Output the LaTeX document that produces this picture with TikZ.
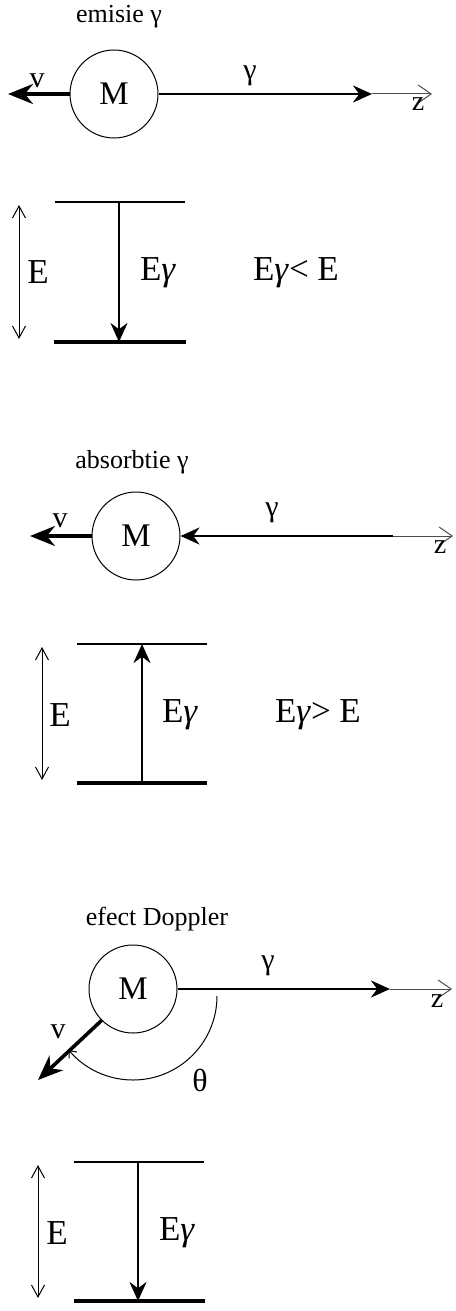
\documentclass[tikz,border=0pt]{standalone}
\usepackage{fontspec}
\setmainfont{Liberation Serif}
\usetikzlibrary{arrows.meta}

\begin{document}
\begin{tikzpicture}[
    x=0.5pt, y=-0.5pt,
    mass/.style={draw, circle, line width=0.5pt, minimum size=44pt, inner sep=0pt,
        font=\fontsize{16.5}{18}\selectfont},
    title/.style={font=\fontsize{13}{15}\selectfont},
    lab/.style={font=\fontsize{17.5}{20}\selectfont},
    sym/.style={font=\fontsize{15}{17}\selectfont},
    photon/.style={-{Stealth[length=9.5pt, width=8.5pt]}, line width=1.1pt},
    vel/.style={-{Stealth[length=12.5pt, width=10pt]}, line width=1.8pt},
    zaxis/.style={-{Straight Barb[length=6.5pt, width=9pt]}, line width=0.5pt, black!70},
    span/.style={{Straight Barb[length=6pt, width=6.5pt]}-{Straight Barb[length=6pt, width=6.5pt]},
        line width=0.5pt},
    upper/.style={line width=0.6pt},
    lower/.style={line width=1.6pt},
]
% picture size in px (y down)
\useasboundingbox (0,0) rectangle (455,1311);

% ---- emisie
\node[title] (t1) at (119,17) {emisie γ};
\node[mass] (M1) at (114,94) {M};
\coordinate (v1) at (8,94);
\coordinate (g1) at (372,94);
\coordinate (z1) at (432,94);
\draw[vel] (M1.west) -- (v1);
\draw[photon] (M1.east) -- (g1);
\draw[zaxis] (g1) -- (z1);
\node[sym] (vl1) at (37,81) {v};
\node[sym] (gl1) at (250,76) {γ};
\node[sym, font=\fontsize{14}{16}\selectfont] (zl1) at (418,104) {z};

% levels
\coordinate (u1a) at (55,202);  \coordinate (u1b) at (185,202);
\coordinate (d1a) at (54,342);  \coordinate (d1b) at (186,342);
\coordinate (e1t) at (19,205);  \coordinate (e1b) at (19,339);
\coordinate (k1t) at (119,202); \coordinate (k1b) at (119,342);
\draw[upper] (u1a) -- (u1b);
\draw[lower] (d1a) -- (d1b);
\draw[span] (e1t) -- (e1b);
\draw[photon] (k1t) -- (k1b);
\node[lab] (El1) at (38,272) {E};
\node[lab, anchor=west] (Eg1) at (133,273) {E\textit{γ}};
\node[lab, anchor=west] (Ec1) at (246,273) {E\textit{γ}< E};

% ---- absorbtie
\node[title] (t2) at (132,462) {absorbtie γ};
\node[mass] (M2) at (136,536) {M};
\coordinate (v2) at (30,536);
\coordinate (s2) at (393,536);
\coordinate (z2) at (453,536);
\draw[vel] (M2.west) -- (v2);
\draw[photon] (s2) -- (M2.east);
\draw[zaxis] (s2) -- (z2);
\node[sym] (vl2) at (60,521) {v};
\node[sym] (gl2) at (272,513) {γ};
\node[sym, font=\fontsize{14}{16}\selectfont] (zl2) at (440,547) {z};

% levels
\coordinate (u2a) at (77,644);  \coordinate (u2b) at (207,644);
\coordinate (d2a) at (77,783);  \coordinate (d2b) at (207,783);
\coordinate (e2t) at (42,647);  \coordinate (e2b) at (42,780);
\coordinate (k2t) at (142,644); \coordinate (k2b) at (142,783);
\draw[upper] (u2a) -- (u2b);
\draw[lower] (d2a) -- (d2b);
\draw[span] (e2t) -- (e2b);
\draw[photon] (k2b) -- (k2t);
\node[lab] (El2) at (60,715) {E};
\node[lab, anchor=west] (Eg2) at (155,715) {E\textit{γ}};
\node[lab, anchor=west] (Ec2) at (268,715) {E\textit{γ}> E};

% ---- efect Doppler
\node[title] (t3) at (157,919) {efect Doppler};
\node[mass] (M3) at (133,989) {M};
\coordinate (v3) at (38,1080);
\coordinate (g3) at (390,989);
\coordinate (z3) at (452,989);
\coordinate (th0) at (217,996);
\draw[vel] (M3.225) -- (v3);
\draw[photon] (M3.east) -- (g3);
\draw[zaxis] (g3) -- (z3);
\draw[line width=0.5pt, -{Straight Barb[length=3pt, width=5pt]}]
    (th0) arc[start angle=0, end angle=140, radius=84];
\node[sym] (vl3) at (58,1032) {v};
\node[sym] (gl3) at (268,966) {γ};
\node[sym, font=\fontsize{14}{16}\selectfont] (zl3) at (437,1001) {z};
\node[lab, font=\fontsize{16}{18}\selectfont] (th) at (200,1080) {θ};

% levels
\coordinate (u3a) at (74,1162);  \coordinate (u3b) at (204,1162);
\coordinate (d3a) at (74,1301);  \coordinate (d3b) at (205,1301);
\coordinate (e3t) at (38,1165);  \coordinate (e3b) at (38,1298);
\coordinate (k3t) at (138,1162); \coordinate (k3b) at (138,1301);
\draw[upper] (u3a) -- (u3b);
\draw[lower] (d3a) -- (d3b);
\draw[span] (e3t) -- (e3b);
\draw[photon] (k3t) -- (k3b);
\node[lab] (El3) at (57,1233) {E};
\node[lab, anchor=west] (Eg3) at (152,1233) {E\textit{γ}};

\end{tikzpicture}
\end{document}
